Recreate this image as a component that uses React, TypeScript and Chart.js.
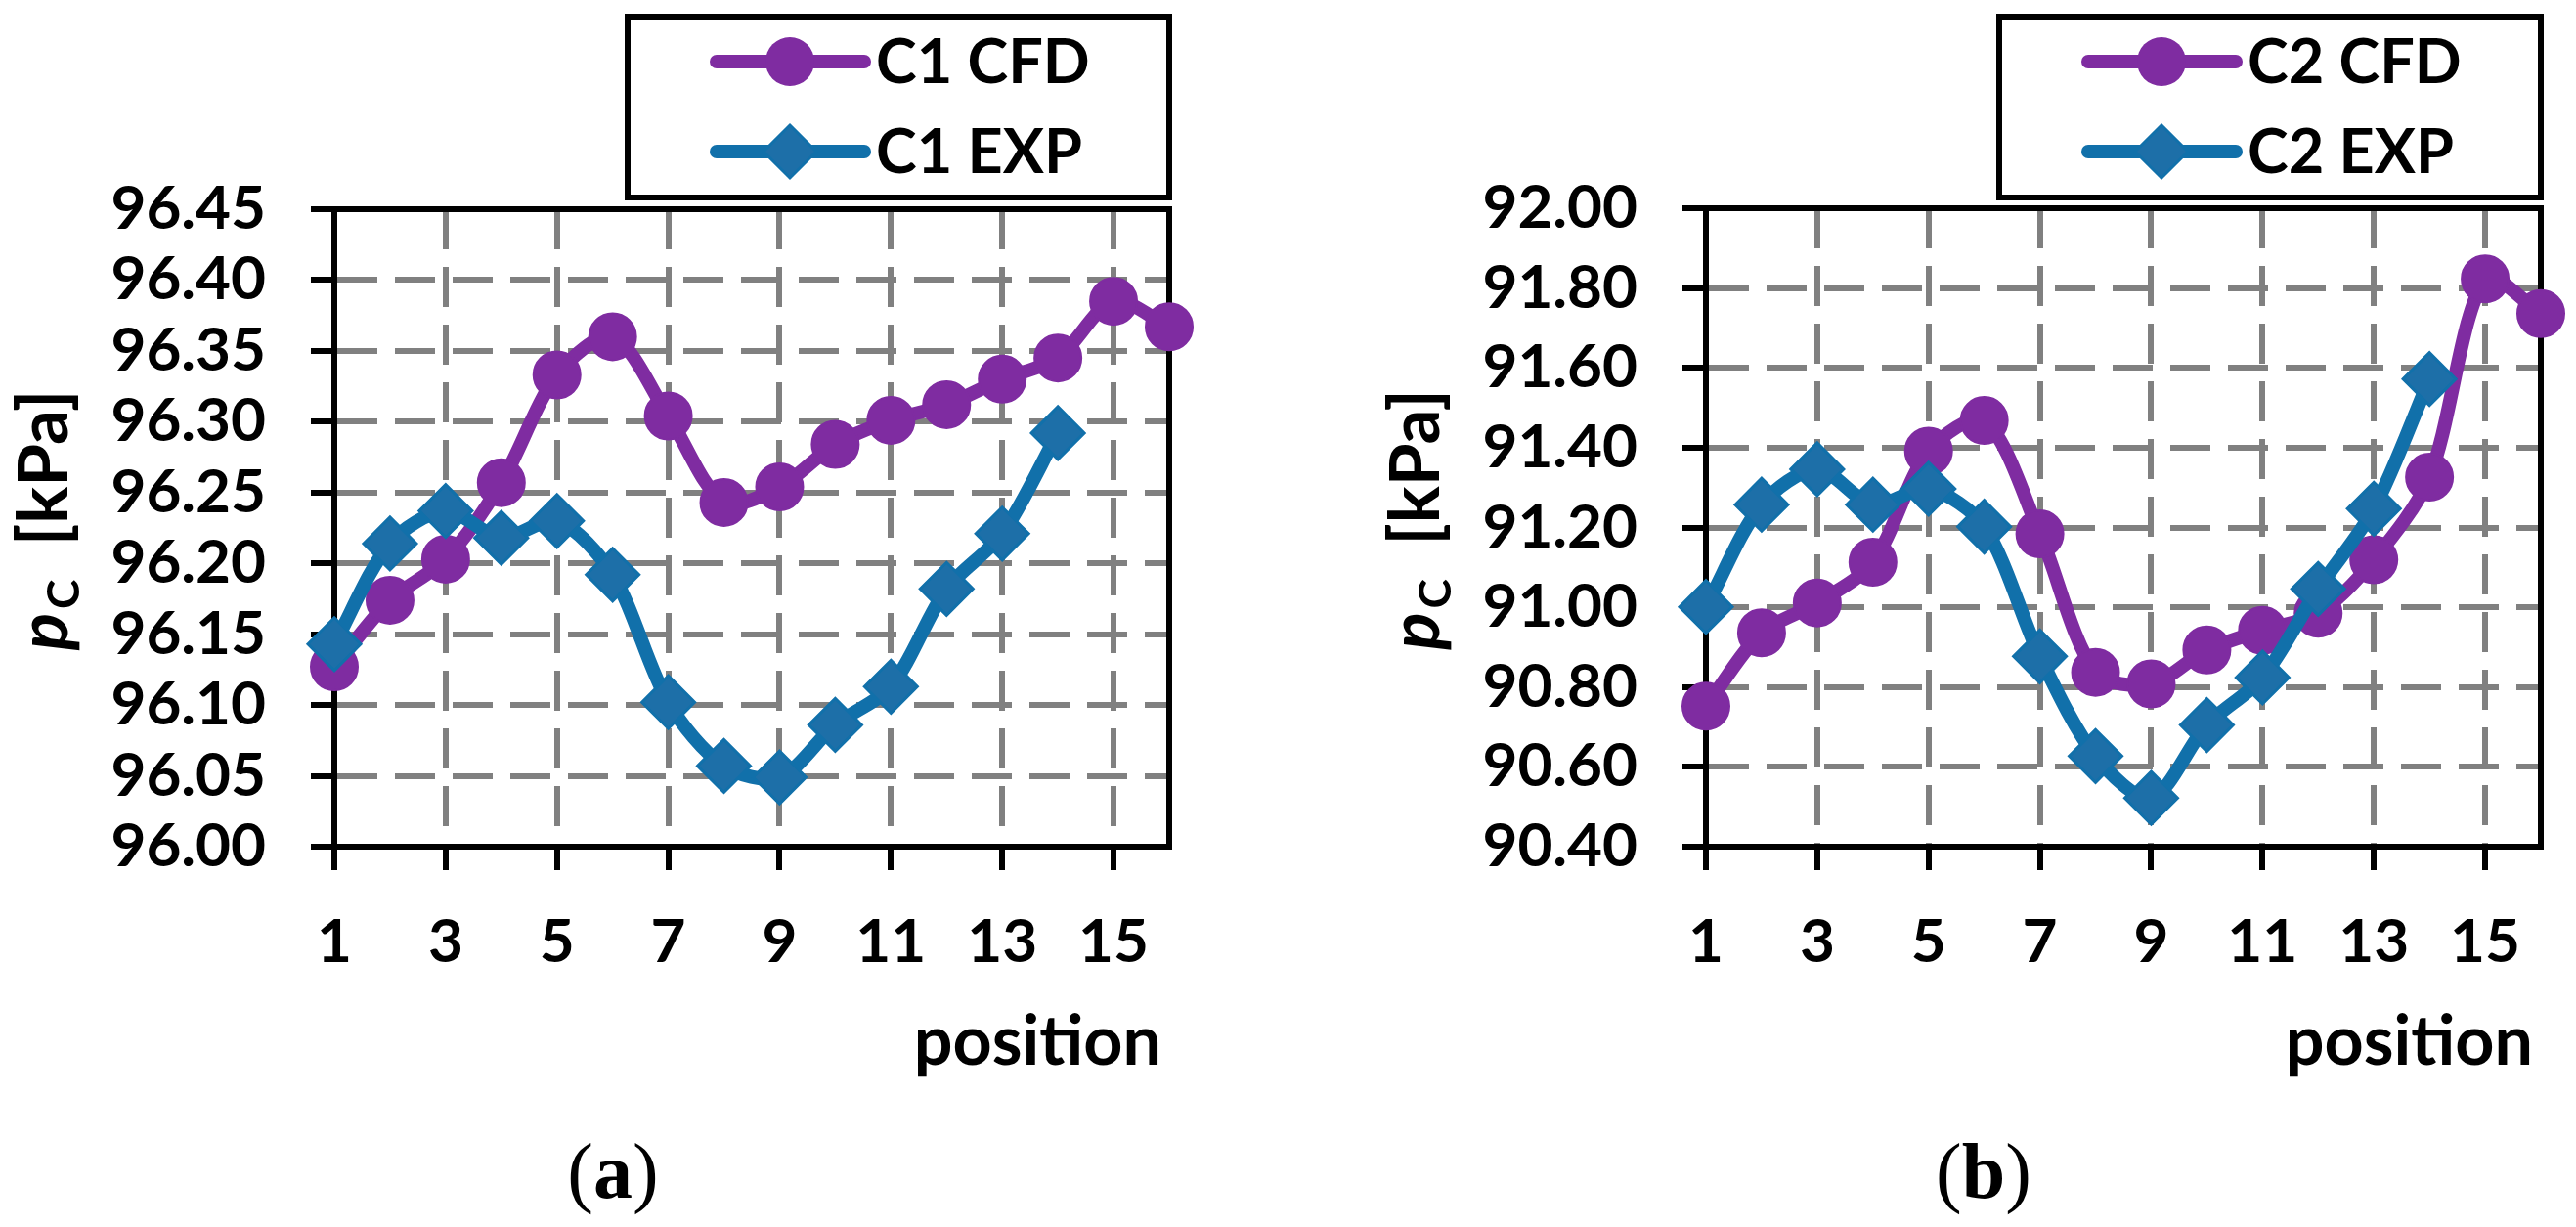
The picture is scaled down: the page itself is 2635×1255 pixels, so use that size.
import React, { useEffect, useRef } from 'react';
import { Chart, registerables } from 'chart.js';

Chart.register(...registerables);

// ---------- data ----------
const positions = [1, 2, 3, 4, 5, 6, 7, 8, 9, 10, 11, 12, 13, 14, 15, 16];
const xTickValues = [1, 3, 5, 7, 9, 11, 13, 15];

const c1Names = ['C1 CFD', 'C1 EXP'];
const c1Cfd = [96.127, 96.174, 96.203, 96.257, 96.333, 96.36, 96.304, 96.243, 96.254, 96.284, 96.301, 96.312, 96.33, 96.345, 96.385, 96.367];
const c1Exp = [96.143, 96.214, 96.237, 96.218, 96.23, 96.192, 96.102, 96.057, 96.049, 96.086, 96.113, 96.182, 96.221, 96.292, null, null];
const c1YRange = [96.0, 96.45];
const c1YStep = 0.05;

const c2Names = ['C2 CFD', 'C2 EXP'];
const c2Cfd = [90.752, 90.936, 91.011, 91.113, 91.391, 91.468, 91.184, 90.837, 90.808, 90.893, 90.942, 90.985, 91.119, 91.326, 91.823, 91.736];
const c2Exp = [91.001, 91.257, 91.346, 91.257, 91.297, 91.202, 90.877, 90.627, 90.522, 90.705, 90.824, 91.046, 91.247, 91.572, null, null];
const c2YRange = [90.4, 92.0];
const c2YStep = 0.2;

const captions = ['a', 'b'];
const yTitleParts = ['p', 'C', '  [kPa]'];
const xTitle = 'position';

// ---------- styles ----------
const FONT = "Lato, Carlito, 'Noto Sans', sans-serif";
const PURPLE = '#7f2ca1';
const BLUE = '#1170aa';
const BLUE_FILL = '#1d6fa8';
const GRID = '#808080';

type PanelProps = {
  left: number;
  width: number;
  height: number;
  areaLeft: number;
  areaTop: number;
  areaRight: number;
  areaBottom: number;
  names: string[];
  cfd: (number | null)[];
  exp: (number | null)[];
  yRange: number[];
  yStep: number;
};

const toXY = (vals: (number | null)[]) =>
  positions
    .map((x, i) => ({ x, y: vals[i] }))
    .filter((p) => p.y !== null && p.y !== undefined);

function drawCircle(ctx: CanvasRenderingContext2D, x: number, y: number, r: number, fill: string) {
  ctx.beginPath();
  ctx.arc(x, y, r, 0, Math.PI * 2);
  ctx.fillStyle = fill;
  ctx.fill();
}

function drawDiamond(ctx: CanvasRenderingContext2D, x: number, y: number, r: number, fill: string, stroke: string) {
  ctx.beginPath();
  ctx.moveTo(x, y - r);
  ctx.lineTo(x + r, y);
  ctx.lineTo(x, y + r);
  ctx.lineTo(x - r, y);
  ctx.closePath();
  ctx.fillStyle = fill;
  ctx.fill();
  ctx.lineWidth = 3;
  ctx.strokeStyle = stroke;
  ctx.stroke();
}

function Panel(p: PanelProps) {
  const ref = useRef<HTMLCanvasElement>(null);

  useEffect(() => {
    const canvas = ref.current;
    if (!canvas) return;
    const [yMin, yMax] = p.yRange;

    const decor = {
      id: 'decor',
      beforeDatasetsDraw(chart: any) {
        const { ctx, chartArea: a } = chart;
        ctx.save();
        ctx.strokeStyle = '#000';
        ctx.lineWidth = 6;
        ctx.lineCap = 'square';
        ctx.beginPath();
        ctx.moveTo(a.left, a.top);
        ctx.lineTo(a.right, a.top);
        ctx.lineTo(a.right, a.bottom);
        ctx.stroke();
        ctx.restore();
      },
      afterDraw(chart: any) {
        const { ctx, chartArea: a } = chart;
        ctx.save();
        // ---- legend box ----
        const bx = a.right - 554;
        const by = 17;
        const bw = 554;
        const bh = 185;
        ctx.fillStyle = '#fff';
        ctx.fillRect(bx, by, bw, bh);
        ctx.strokeStyle = '#000';
        ctx.lineWidth = 6;
        ctx.strokeRect(bx, by, bw, bh);
        const rows = [63, 155];
        const colors = [PURPLE, BLUE];
        rows.forEach((ry, i) => {
          ctx.strokeStyle = colors[i];
          ctx.lineWidth = 14;
          ctx.lineCap = 'round';
          ctx.beginPath();
          ctx.moveTo(bx + 91, ry);
          ctx.lineTo(bx + 242, ry);
          ctx.stroke();
          if (i === 0) drawCircle(ctx, bx + 166, ry, 25, PURPLE);
          else drawDiamond(ctx, bx + 166, ry, 27, BLUE_FILL, BLUE);
          ctx.fillStyle = '#000';
          ctx.font = `bold 63px ${FONT}`;
          ctx.textAlign = 'left';
          ctx.textBaseline = 'middle';
          ctx.fillText(p.names[i], bx + 254, ry + 2);
        });

        // ---- y title (rotated, italic p with subscript C) ----
        const cx = a.left - 296;
        const cy = (a.top + a.bottom) / 2 - 8;
        ctx.translate(cx, cy);
        ctx.rotate(-Math.PI / 2);
        ctx.fillStyle = '#000';
        ctx.textAlign = 'left';
        ctx.textBaseline = 'alphabetic';
        const fBig = `italic bold 71px ${FONT}`;
        const fSub = `bold 46px ${FONT}`;
        const fRest = `bold 71px ${FONT}`;
        ctx.font = fBig;
        const w1 = ctx.measureText(yTitleParts[0]).width;
        ctx.font = fSub;
        const w2 = ctx.measureText(yTitleParts[1]).width;
        ctx.font = fRest;
        const w3 = ctx.measureText(yTitleParts[2]).width;
        let tx = -(w1 + w2 + w3 + 4) / 2;
        const base = 23;
        ctx.font = fBig;
        ctx.fillText(yTitleParts[0], tx, base);
        tx += w1 + 4;
        ctx.font = fSub;
        ctx.fillText(yTitleParts[1], tx, base + 12);
        tx += w2;
        ctx.font = fRest;
        ctx.fillText(yTitleParts[2], tx, base);
        ctx.setTransform(1, 0, 0, 1, 0, 0);

        // ---- x title ----
        ctx.font = `bold 70px ${FONT}`;
        ctx.textAlign = 'right';
        ctx.textBaseline = 'middle';
        ctx.fillStyle = '#000';
        ctx.fillText(xTitle, a.right - 8, a.bottom + 200);
        ctx.restore();
      },
    };

    const chart = new Chart(canvas, {
      type: 'line',
      data: {
        datasets: [
          {
            label: p.names[0],
            data: toXY(p.cfd) as any,
            borderColor: PURPLE,
            backgroundColor: PURPLE,
            borderWidth: 14,
            pointStyle: 'circle',
            pointRadius: 24,
            pointBorderWidth: 2,
            pointBackgroundColor: PURPLE,
            pointBorderColor: PURPLE,
            tension: 0.3,
            borderJoinStyle: 'round',
            borderCapStyle: 'round',
            clip: false as any,
            order: 2,
          },
          {
            label: p.names[1],
            data: toXY(p.exp) as any,
            borderColor: BLUE,
            backgroundColor: BLUE_FILL,
            borderWidth: 14,
            pointStyle: 'rectRot',
            pointRadius: 27,
            pointBorderWidth: 3,
            pointBackgroundColor: BLUE_FILL,
            pointBorderColor: BLUE,
            tension: 0.3,
            borderJoinStyle: 'round',
            borderCapStyle: 'round',
            clip: false as any,
            order: 1,
          },
        ],
      },
      options: {
        responsive: false,
        animation: false,
        devicePixelRatio: 1,
        layout: { padding: { left: 0, top: p.areaTop, right: p.width - p.areaRight, bottom: 0 } },
        plugins: {
          legend: { display: false },
          tooltip: { enabled: false },
          title: { display: false },
        },
        scales: {
          x: {
            type: 'linear',
            min: 1,
            max: 16,
            afterBuildTicks: (s: any) => {
              s.ticks = xTickValues.map((v) => ({ value: v }));
            },
            afterFit: (s: any) => {
              s.height = p.height - p.areaBottom;
            },
            ticks: {
              autoSkip: false,
              maxRotation: 0,
              minRotation: 0,
              padding: 37,
              color: '#000',
              font: { family: FONT, size: 62, weight: 'bold' },
              callback: (v: any) => String(v),
            },
            grid: {
              color: (c: any) => (c.tick && c.tick.value === 1 ? 'rgba(0,0,0,0)' : GRID),
              lineWidth: 6,
              drawTicks: true,
              tickLength: 24,
              tickWidth: 6,
              tickColor: '#000',
            },
            border: { display: true, color: '#000', width: 6, dash: [41, 18] },
          },
          y: {
            type: 'linear',
            min: yMin,
            max: yMax,
            afterFit: (s: any) => {
              s.width = p.areaLeft;
            },
            ticks: {
              stepSize: p.yStep,
              autoSkip: false,
              padding: 46,
              color: '#000',
              font: { family: FONT, size: 62, weight: 'bold', lineHeight: 1 },
              callback: (v: any) => Number(v).toFixed(2),
            },
            grid: {
              color: (c: any) =>
                c.tick && (Math.abs(c.tick.value - yMin) < 1e-6 || Math.abs(c.tick.value - yMax) < 1e-6)
                  ? 'rgba(0,0,0,0)'
                  : GRID,
              lineWidth: 6,
              drawTicks: true,
              tickLength: 24,
              tickWidth: 6,
              tickColor: '#000',
            },
            border: { display: true, color: '#000', width: 6, dash: [41, 18] },
          },
        },
      } as any,
      plugins: [decor],
    });
    return () => chart.destroy();
  }, []);

  return (
    <div style={{ position: 'absolute', left: p.left, top: 0, width: p.width, height: p.height }}>
      <canvas ref={ref} width={p.width} height={p.height} />
    </div>
  );
}

function Caption({ letter, cx, cy }: { letter: string; cx: number; cy: number }) {
  return (
    <div
      style={{
        position: 'absolute',
        left: cx,
        top: cy,
        transform: 'translate(-50%, -50%)',
        fontFamily: "'Liberation Serif', 'DejaVu Serif', serif",
        fontSize: 80,
        lineHeight: 1,
        color: '#000',
        whiteSpace: 'nowrap',
      }}
    >
      (<b>{letter}</b>)
    </div>
  );
}

export default function App() {
  return (
    <div style={{ position: 'absolute', left: 0, top: 0, width: 2635, height: 1255, background: '#fff', overflow: 'hidden' }}>
      <Panel
        left={0}
        width={1300}
        height={1255}
        areaLeft={342}
        areaTop={214}
        areaRight={1196}
        areaBottom={866}
        names={c1Names}
        cfd={c1Cfd}
        exp={c1Exp}
        yRange={c1YRange}
        yStep={c1YStep}
      />
      <Panel
        left={1300}
        width={1335}
        height={1255}
        areaLeft={445}
        areaTop={213}
        areaRight={1299}
        areaBottom={866}
        names={c2Names}
        cfd={c2Cfd}
        exp={c2Exp}
        yRange={c2YRange}
        yStep={c2YStep}
      />
      <Caption letter={captions[0]} cx={627} cy={1198} />
      <Caption letter={captions[1]} cx={2029} cy={1198} />
    </div>
  );
}
